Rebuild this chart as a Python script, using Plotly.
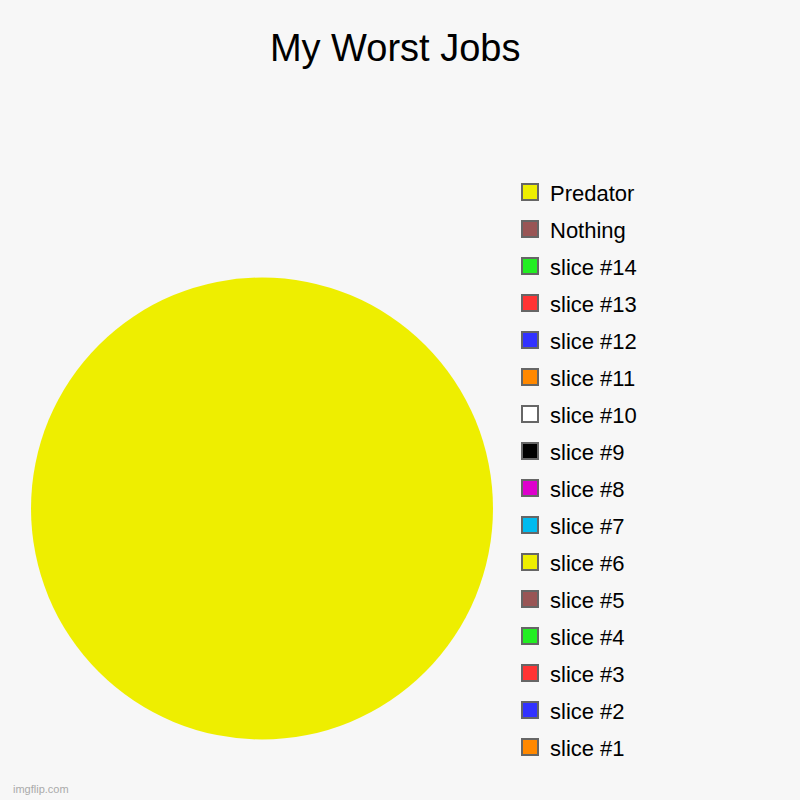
import plotly.graph_objects as go

# legend order, top to bottom
labels = ["Predator", "Nothing", "slice #14", "slice #13", "slice #12", "slice #11",
          "slice #10", "slice #9", "slice #8", "slice #7", "slice #6", "slice #5",
          "slice #4", "slice #3", "slice #2", "slice #1"]
values = [100, 0, 0, 0, 0, 0, 0, 0, 0, 0, 0, 0, 0, 0, 0, 0]
colors = ["#eeee00", "#995555", "#22ee22", "#ff3333", "#3333ff", "#ff8800",
          "#ffffff", "#000000", "#dd00cc", "#00bbee", "#eeee00", "#995555",
          "#22ee22", "#ff3333", "#3333ff", "#ff8800"]

fig = go.Figure()

# the pie itself
fig.add_trace(go.Pie(
    labels=labels,
    values=values,
    sort=False,
    direction="clockwise",
    textinfo="none",
    showlegend=False,
    marker=dict(colors=colors, line=dict(width=0)),
    domain=dict(x=[31 / 800, 493 / 800], y=[60 / 800, 523 / 800]),
))

# legend entries with bordered square swatches
for i, (lab, col) in enumerate(zip(labels, colors)):
    fig.add_trace(go.Scatter(
        x=[None], y=[None], mode="markers", name=lab,
        legendgroup=f"g{i}",
        marker=dict(symbol="square", size=16, color=col,
                    line=dict(color="#666666", width=2)),
    ))

fig.update_layout(
    width=800, height=800,
    margin=dict(l=0, r=0, t=0, b=0),
    paper_bgcolor="#f7f7f7",
    plot_bgcolor="#f7f7f7",
    font=dict(family="Liberation Sans, Arial, sans-serif", color="#000000"),
    title=dict(text="My Worst Jobs", x=0.494, xanchor="center", y=0.941, yanchor="middle",
               font=dict(size=38)),
    xaxis=dict(visible=False),
    yaxis=dict(visible=False),
    showlegend=True,
    legend=dict(x=0.6375, xanchor="left", y=0.786, yanchor="top",
                font=dict(size=22), itemwidth=30, itemsizing="trace",
                traceorder="grouped", tracegroupgap=5.4,
                bgcolor="rgba(0,0,0,0)"),
)

fig.add_annotation(text="imgflip.com", x=0.014, y=0.004, xref="paper", yref="paper",
                   xanchor="left", yanchor="bottom", showarrow=False,
                   font=dict(size=11, color="#aaaaaa"))

# drop the default page margin so the 800x800 figure fills the window
fig.write_html("out.html", config={"displayModeBar": False},
               post_script="document.body.style.margin='0';")
